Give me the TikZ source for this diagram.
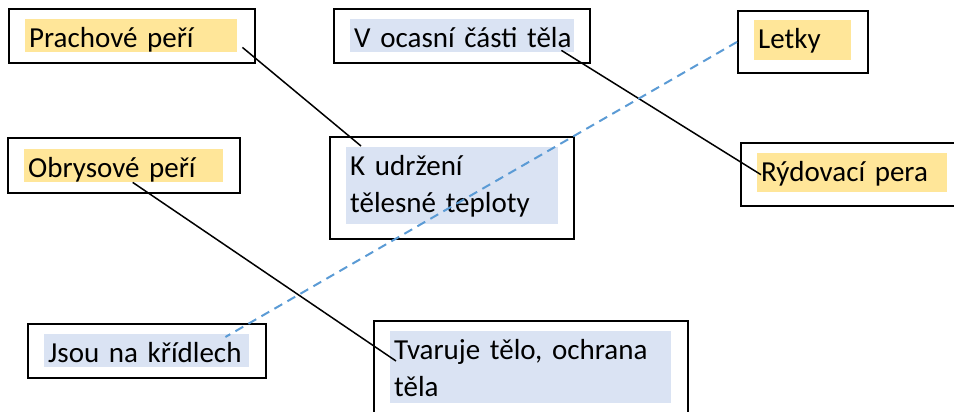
\documentclass[tikz,border=0pt]{standalone}
\usepackage{fontspec}
\setmainfont{Carlito}
\usetikzlibrary{positioning}
\definecolor{hlyellow}{HTML}{FFE699}
\definecolor{hlblue}{HTML}{DAE3F3}
\definecolor{dashblue}{HTML}{5B9BD5}
\tikzstyle{frame}=[draw,line width=1.9pt,inner sep=0pt,anchor=north west]
\tikzstyle{hly}=[fill=hlyellow,inner xsep=4pt,inner ysep=0pt,align=left]
\tikzstyle{hlb}=[hly,fill=hlblue]
\newcommand\hs[1][5pt]{\rule[-#1]{0pt}{\dimexpr 28pt+#1\relax}}

\begin{document}
\begin{tikzpicture}[x=1pt,y=-1pt,font=\fontsize{29}{37}\selectfont]
  \useasboundingbox (0,0) rectangle (954,412);
  \tikzstyle{link}=[line width=1.5pt]

  \node[frame,minimum width=246pt,minimum height=54pt] (pr) at (8,8) {};
  \node[frame,minimum width=256pt,minimum height=54pt] (oc) at (333,8) {};
  \node[frame,minimum width=130pt,minimum height=62pt] (le) at (737,10) {};
  \node[frame,minimum width=232pt,minimum height=55pt] (ob) at (7,137) {};
  \node[frame,minimum width=244pt,minimum height=102pt] (ku) at (329,136) {};
  \node[frame,minimum width=220pt,minimum height=63pt] (ry) at (740,142) {};
  \node[frame,minimum width=238pt,minimum height=54pt] (js) at (27,323) {};
  \node[frame,minimum width=314pt,minimum height=100pt] (tv) at (373,320) {};

  \node[hly,text width=204pt,below right=11pt and 17pt of pr.north west] (prt) {\hs\mbox{Prachové peří}};
  \node[hlb,text width=216pt,below right=11pt and 17pt of oc.north west] (oct) {\hs\mbox{V ocasní části těla}};
  \node[hly,text width=89pt,below right=10pt and 17pt of le.north west] (let) {\hs[12pt]Letky};
  \node[hly,text width=191pt,below right=12pt and 17pt of ob.north west] (obt) {\hs\mbox{Obrysové peří}};
  \node[hlb,text width=204pt,below right=11pt and 17pt of ku.north west] (kut) {\hs K udržení\\\hs[12pt]\mbox{tělesné teploty}};
  \node[hly,text width=182pt,below right=11pt and 17pt of ry.north west] (ryt) {\hs[11pt]\mbox{Rýdovací pera}};
  \node[hlb,text width=197pt,below right=11pt and 17pt of js.north west] (jst) {\hs\mbox{Jsou na křídlech}};
  \node[hlb,text width=273pt,below right=11pt and 17pt of tv.north west] (tvt) {\hs\mbox{Tvaruje tělo, ochrana}\\\hs[7pt]těla};

  \draw[link] ([xshift=5pt,yshift=5pt]prt.south east) -- ([xshift=15pt,yshift=1pt]kut.north west);
  \draw[link] ([xshift=-13pt,yshift=2pt]oct.south east) -- ([xshift=4pt,yshift=-2pt]ryt.west);
  \draw[link] ([xshift=9pt]obt.south) -- ([xshift=6pt,yshift=-30pt]tvt.north west);
  \draw[dashblue,line width=2pt,dash pattern=on 9pt off 6pt] (le.west) -- ([xshift=-24pt,yshift=-3pt]jst.north east);
\end{tikzpicture}
\end{document}
